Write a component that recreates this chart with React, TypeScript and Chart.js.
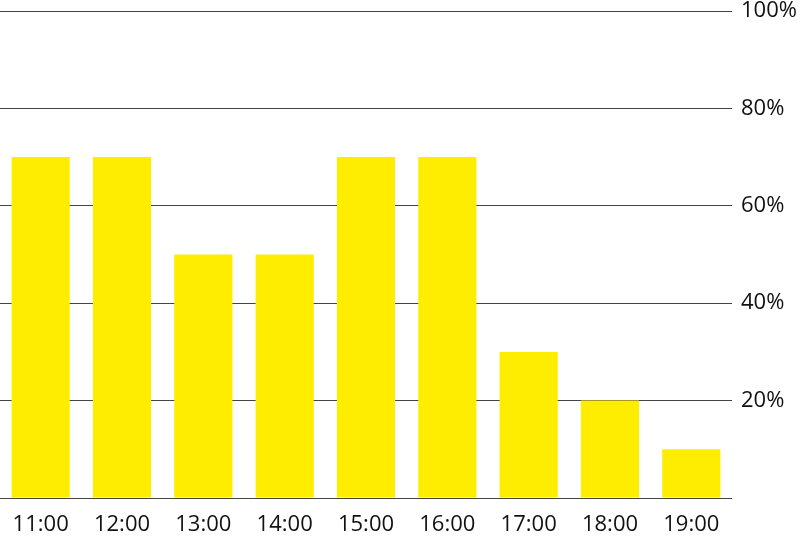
import React, { useEffect, useRef } from "react";
import { Chart, registerables } from "chart.js";

Chart.register(...registerables);

const categories = ["11:00", "12:00", "13:00", "14:00", "15:00", "16:00", "17:00", "18:00", "19:00"];
const values = [70, 70, 50, 50, 70, 70, 30, 20, 10];
const yTicks = [0, 20, 40, 60, 80, 100];

export default function App() {
  const ref = useRef<HTMLCanvasElement>(null);
  useEffect(() => {
    document.body.style.margin = "0";
    const ctx = ref.current!;
    const chart = new Chart(ctx, {
      type: "bar",
      data: {
        labels: categories,
        datasets: [
          {
            data: values,
            backgroundColor: "#FFED00",
            borderWidth: 0,
            barPercentage: 0.715,
            categoryPercentage: 1,
          },
        ],
      },
      options: {
        animation: false,
        responsive: false,
        maintainAspectRatio: false,
        layout: { padding: { top: 11, left: 0, right: 0, bottom: 0 } },
        plugins: { legend: { display: false }, tooltip: { enabled: false } },
        scales: {
          x: {
            grid: { display: false },
            border: { display: false },
            ticks: {
              color: "#111",
              font: { family: "'Open Sans'", size: 22 },
              padding: 6,
              maxRotation: 0,
            },
            afterFit: (s: any) => {
              s.height = 41;
              s.paddingLeft = 0;
              s.paddingRight = 0;
            },
          },
          y: {
            position: "right",
            min: 0,
            max: 100,
            afterBuildTicks: (s: any) => {
              s.ticks = yTicks.map((v) => ({ value: v }));
            },
            grid: { color: "#444", lineWidth: 1, drawTicks: false },
            border: { display: false },
            ticks: {
              color: "#111",
              font: { family: "'Open Sans'", size: 22 },
              padding: 9,
              callback: (v: any) => (v === 0 ? "" : v + "%"),
            },
            afterFit: (s: any) => {
              s.width = 68;
              s.paddingTop = 0;
              s.paddingBottom = 0;
            },
          },
        },
      },
    });
    return () => chart.destroy();
  }, []);
  return (
    <div style={{ width: 800, height: 539 }}>
      <canvas ref={ref} width={800} height={539} style={{ display: "block" }} />
    </div>
  );
}
